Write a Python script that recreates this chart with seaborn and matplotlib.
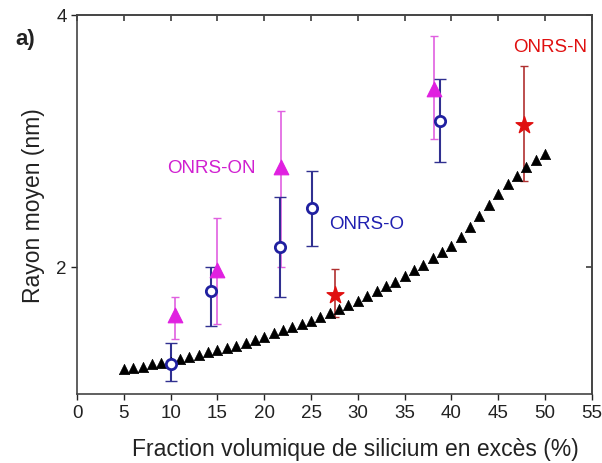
import numpy as np
import pandas as pd
import matplotlib
matplotlib.use("Agg")
import matplotlib.pyplot as plt
from matplotlib.ticker import NullLocator, FixedLocator, FixedFormatter
import seaborn as sns

# model curve (black triangles)
model_x = list(range(5, 51))
model_r = [1.51, 1.515, 1.52, 1.53, 1.535, 1.54, 1.55, 1.56, 1.57, 1.58,
           1.59, 1.60, 1.61, 1.62, 1.635, 1.65, 1.665, 1.68, 1.695, 1.71,
           1.725, 1.74, 1.76, 1.78, 1.80, 1.82, 1.845, 1.87, 1.895, 1.92,
           1.95, 1.98, 2.01, 2.05, 2.085, 2.12, 2.17, 2.23, 2.30, 2.37,
           2.44, 2.51, 2.57, 2.63, 2.68, 2.73]

# ONRS-ON (magenta triangles)
on_x = [10.5, 15.0, 21.8, 38.1]
on_r = [1.75, 1.98, 2.63, 3.26]
on_lo = [1.64, 1.71, 2.00, 2.84]
on_hi = [1.84, 2.29, 3.07, 3.77]

# ONRS-O (blue open circles)
o_x = [10.0, 14.3, 21.7, 25.1, 38.8]
o_r = [1.53, 1.87, 2.11, 2.35, 2.99]
o_lo = [1.46, 1.70, 1.84, 2.12, 2.67]
o_hi = [1.62, 2.00, 2.42, 2.60, 3.35]

# ONRS-N (red stars)
n_x = [27.6, 47.8]
n_r = [1.85, 2.95]
n_lo = [1.74, 2.53]
n_hi = [1.99, 3.47]

sns.set_theme(style="white")
plt.rcParams['font.family'] = ['Liberation Sans', 'DejaVu Sans']

fig = plt.figure(figsize=(6.02, 4.64), dpi=100)
ax = fig.add_axes([0.128, 0.149, 0.855, 0.817])

def yerr(r, lo, hi):
    r, lo, hi = map(np.array, (r, lo, hi))
    return [r - lo, hi - r]

ax.errorbar(on_x, on_r, yerr=yerr(on_r, on_lo, on_hi), fmt='none',
            ecolor='#e060e0', elinewidth=1.2, capsize=3, zorder=2)
ax.errorbar(o_x, o_r, yerr=yerr(o_r, o_lo, o_hi), fmt='none',
            ecolor='#303090', elinewidth=1.5, capsize=4, zorder=2)
ax.errorbar(n_x, n_r, yerr=yerr(n_r, n_lo, n_hi), fmt='none',
            ecolor='#b03030', elinewidth=1.2, capsize=3, zorder=2)

model = pd.DataFrame({'x': model_x, 'r': model_r})
sns.scatterplot(data=model, x='x', y='r', marker='^', s=55, color='black',
                edgecolor='black', linewidth=0.5, ax=ax, zorder=3)
sns.scatterplot(x=on_x, y=on_r, marker='^', s=110, color='#e020e0',
                edgecolor='#e020e0', ax=ax, zorder=4)
sns.scatterplot(x=o_x, y=o_r, marker='o', s=55, facecolor='white',
                edgecolor='#2020a0', linewidth=2, ax=ax, zorder=4)
sns.scatterplot(x=n_x, y=n_r, marker='*', s=160, color='#e01010',
                edgecolor='#e01010', ax=ax, zorder=4)

ax.set_yscale('log', base=2)
ax.set_ylim(1.41, 4.0)
ax.set_xlim(0, 55)
ax.yaxis.set_major_locator(FixedLocator([2, 4]))
ax.yaxis.set_major_formatter(FixedFormatter(['2', '4']))
ax.yaxis.set_minor_locator(NullLocator())
ax.set_xticks(range(0, 56, 5))

ax.tick_params(axis='both', which='major', direction='out', length=4,
               width=1, labelsize=13.5, colors='#222222', left=True, bottom=True)

# mirrored inward ticks on top and right
top = ax.secondary_xaxis('top')
top.set_xticks(range(0, 56, 5))
top.tick_params(direction='in', length=4, labeltop=False, colors='#444444')
right = ax.secondary_yaxis('right')
right.set_yticks([2, 4])
right.yaxis.set_minor_locator(NullLocator())
right.tick_params(direction='in', length=4, labelright=False, colors='#444444')

for a in (ax, top, right):
    for sp in a.spines.values():
        sp.set_color('#444444')
        sp.set_linewidth(1.2)

ax.set_xlabel('Fraction volumique de silicium en excès (%)', fontsize=16.5,
              color='#222222')
ax.xaxis.set_label_coords(0.54, -0.115)
ax.set_ylabel('Rayon moyen (nm)', fontsize=16.5, color='#222222', labelpad=8)

ax.text(14.4, 2.63, 'ONRS-ON', color='#d020d0', fontsize=13.5,
        ha='center', va='center')
ax.text(30.9, 2.25, 'ONRS-O', color='#2020b0', fontsize=13.5,
        ha='center', va='center')
ax.text(50.6, 3.67, 'ONRS-N', color='#e01010', fontsize=13.5,
        ha='center', va='center')
fig.text(0.025, 0.915, 'a)', fontsize=16, fontweight='bold', color='#222222',
         ha='left', va='center')

fig.savefig('out.png', dpi=100)
